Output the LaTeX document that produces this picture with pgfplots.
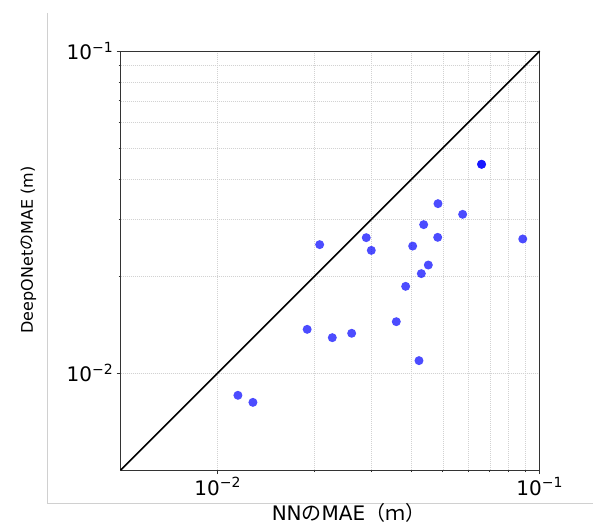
\documentclass[border=0pt]{standalone}
\usepackage{fontspec}
\setmainfont{DejaVu Sans}
\newfontfamily\jp{Noto Sans CJK JP}
\usepackage{pgfplots}
\pgfplotsset{compat=1.18}
\definecolor{AxisGray}{HTML}{333333}
\definecolor{FrameGray}{HTML}{D0D0D0}
\newcommand\pw[1]{10\textsuperscript{−#1}}

\begin{document}
\begin{tikzpicture}
  \useasboundingbox (0,0) rectangle (593pt,527pt);
  \draw[FrameGray,line width=0.8pt] (47pt,514pt) -- (47pt,24pt) -- (593pt,24pt);
  \begin{axis}[
    at={(120.7pt,57pt)},anchor=south west,scale only axis,
    width=419pt,height=419pt,
    xmode=log,ymode=log,xmin=0.005,xmax=0.1,ymin=0.005,ymax=0.1,
    xtick={0.01,0.1},ytick={0.01,0.1},
    xticklabels={\pw{2},\pw{1}},yticklabels={\pw{2},\pw{1}},
    ticklabel style={font=\fontsize{20}{24}\selectfont},
    tick align=outside,tick pos=left,
    major tick length=4pt,minor tick length=2pt,
    every tick/.style={AxisGray,line width=0.8pt},
    axis line style={AxisGray,line width=1pt},
    grid=both,
    major grid style={gray!35,line width=0.5pt,dash pattern=on 1pt off 1pt},
    minor grid style={gray!35,line width=0.5pt,dash pattern=on 1pt off 1pt},
    xlabel={NN{\jp の}MAE{\jp （ｍ）}},
    ylabel={DeepONet{\jp の}MAE (m)},
    x label style={at={(axis description cs:0.5437,-0.103)},anchor=center,font=\fontsize{20}{24}\selectfont},
    y label style={at={(axis description cs:-0.22,0.525)},anchor=center,font=\fontsize{16}{20}\selectfont},
    clip=false,
  ]
    \addplot[black,line width=1.5pt] coordinates {(0.005,0.005) (0.1,0.1)};
    \addplot[only marks,mark=*,mark size=4.5pt,mark options={fill=blue,fill opacity=0.7,draw opacity=0}] coordinates {
      (0.01156,0.00853) (0.01287,0.00811) (0.01897,0.01367) (0.02074,0.02505)
      (0.02270,0.01288) (0.02607,0.01329) (0.02894,0.02633) (0.03000,0.02404)
      (0.03587,0.01444) (0.03836,0.01859) (0.04033,0.02479) (0.04219,0.01093)
      (0.04290,0.02036) (0.04510,0.02165) (0.04363,0.02890) (0.04823,0.02639)
      (0.04833,0.03358) (0.05765,0.03111) (0.06600,0.04449) (0.06600,0.04449)
      (0.08860,0.02608)
    };
  \end{axis}
\end{tikzpicture}
\end{document}
